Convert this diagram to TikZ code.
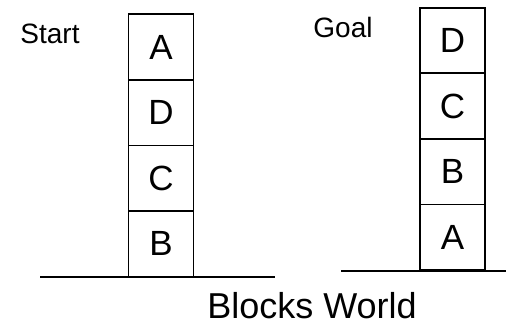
\documentclass[tikz,border=0pt]{standalone}
\usepackage{fontspec}
\setmainfont{Liberation Sans}
\begin{document}
\begin{tikzpicture}[x=1pt,y=1pt,
  block/.style={draw, line width=1.8pt, minimum width=65pt, minimum height=65.6pt, inner sep=0pt, font=\fontsize{35}{35}\selectfont},
  lbl/.style={font=\fontsize{28}{28}\selectfont, inner sep=0pt},
  ground/.style={line width=2.2pt}]
\useasboundingbox (0,0) rectangle (506,-332);
% Start stack
\node[block] (sA) at (161,-47) {A};
\node[block] (sD) at (161,-112.6) {D};
\node[block] (sC) at (161,-178.2) {C};
\node[block] (sB) at (161,-243.8) {B};
% Goal stack
\node[block] (gD) at (452.5,-40.5) {D};
\node[block] (gC) at (452.5,-106.1) {C};
\node[block] (gB) at (452.5,-171.7) {B};
\node[block] (gA) at (452.5,-237.3) {A};
% labels
\node[lbl] (start) at (50,-34) {Start};
\node[lbl] (goal) at (343,-27) {Goal};
\node[font=\fontsize{36}{36}\selectfont, inner sep=0pt] (title) at (312,-306) {Blocks World};
% ground lines
\coordinate (lg1) at (40,-277);
\coordinate (lg2) at (275,-277);
\coordinate (rg1) at (341,-271);
\coordinate (rg2) at (506,-271);
\draw[ground] (lg1) -- (lg2);
\draw[ground] (rg1) -- (rg2);
\end{tikzpicture}
\end{document}
